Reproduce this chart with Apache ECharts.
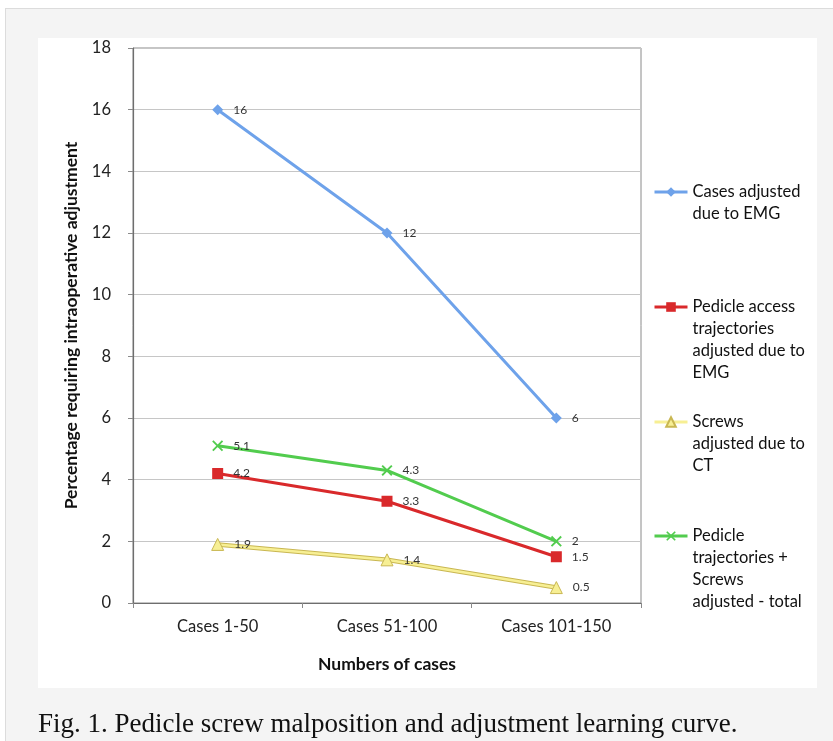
<!DOCTYPE html>
<html>
<head>
<meta charset="utf-8">
<script src="https://cdn.jsdelivr.net/npm/echarts@6/dist/echarts.min.js"></script>
<style>
  html, body { margin: 0; padding: 0; background: #ffffff; }
  #frame { position: absolute; left: 5px; top: 8px; width: 840px; height: 745px; background: #f4f4f4; border-left: 1px solid #dcdcdc; border-top: 1px solid #dcdcdc; }
  #panel { position: absolute; left: 38px; top: 38px; width: 779px; height: 650px; background: #ffffff; }
  #chart { position: absolute; left: 0; top: 0; width: 833px; height: 741px; }
</style>
</head>
<body>
<div id="frame"></div>
<div id="panel"></div>
<div id="chart"></div>
<script>
const categories = ['Cases 1-50', 'Cases 51-100', 'Cases 101-150'];
const casesEMG = [16, 12, 6];
const pedicleEMG = [4.2, 3.3, 1.5];
const screwsCT = [1.9, 1.4, 0.5];
const totalAdjusted = [5.1, 4.3, 2];
const yTicks = { min: 0, max: 18, interval: 2 };
const seriesNames = [
  'Cases adjusted\ndue to EMG',
  'Pedicle access\ntrajectories\nadjusted due to\nEMG',
  'Screws\nadjusted due to\nCT',
  'Pedicle\ntrajectories +\nScrews\nadjusted - total'
];

const FONT = 'Lato, "Open Sans", sans-serif';
const LH = 22;
const xPath = 'path://M0,1.2 L1.2,0 L5,3.8 L8.8,0 L10,1.2 L6.2,5 L10,8.8 L8.8,10 L5,6.2 L1.2,10 L0,8.8 L3.8,5 Z';

function legendFor(name, symbolY) {
  const n = name.split('\n').length;
  return {
    data: [name],
    left: 653,
    top: symbolY - (2 * n - 1) * LH / 2,
    padding: 0,
    itemWidth: 33,
    itemHeight: 12,
    itemGap: 4,
    selectedMode: false,
    lineStyle: { width: 3 },
    formatter: function (nm) { return '\n'.repeat(n - 1) + nm; },
    textStyle: { fontFamily: FONT, fontSize: 16.5, color: '#111', lineHeight: LH }
  };
}

const labelStyle = { show: true, position: 'right', distance: 10, fontFamily: FONT, fontSize: 12, color: '#333' };

const chart = echarts.init(document.getElementById('chart'), null, { renderer: 'canvas' });
chart.setOption({
  backgroundColor: 'transparent',
  animation: false,
  title: {
    text: 'Fig. 1. Pedicle screw malposition and adjustment learning curve.',
    left: 33, top: 706,
    textStyle: { fontFamily: '"Liberation Serif", "DejaVu Serif", serif', fontSize: 27, fontWeight: 'normal', color: '#111' }
  },
  legend: [
    legendFor(seriesNames[0], 192),
    legendFor(seriesNames[1], 307),
    legendFor(seriesNames[2], 422),
    legendFor(seriesNames[3], 536)
  ],
  grid: {
    left: 133, top: 48, right: 192, bottom: 138,
    show: true, borderColor: '#8a8a8a', borderWidth: 1, backgroundColor: 'transparent'
  },
  xAxis: {
    type: 'category',
    data: categories,
    boundaryGap: true,
    name: 'Numbers of cases',
    nameLocation: 'middle',
    nameGap: 52,
    nameTextStyle: { fontFamily: FONT, fontSize: 17.5, fontWeight: 'bold', color: '#111' },
    axisLine: { lineStyle: { color: '#6e6e6e', width: 1.2 } },
    axisTick: { show: true, length: 5, alignWithLabel: false, lineStyle: { color: '#8a8a8a' } },
    axisLabel: { fontFamily: FONT, fontSize: 16.5, color: '#222', margin: 15 },
    splitLine: { show: false }
  },
  yAxis: {
    type: 'value',
    min: yTicks.min, max: yTicks.max, interval: yTicks.interval,
    name: 'Percentage requiring intraoperative adjustment',
    nameLocation: 'middle',
    nameGap: 53,
    nameTextStyle: { fontFamily: FONT, fontSize: 17.5, fontWeight: 'bold', color: '#111' },
    axisLine: { show: true, lineStyle: { color: '#6e6e6e', width: 1.2 } },
    axisTick: { show: true, length: 5, lineStyle: { color: '#8a8a8a' } },
    axisLabel: { fontFamily: FONT, fontSize: 16.5, color: '#222', margin: 22 },
    splitLine: { show: true, lineStyle: { color: '#c6c6c6', width: 1.2 } }
  },
  series: [
    {
      name: seriesNames[0], type: 'line', data: casesEMG,
      symbol: 'diamond', symbolSize: 11,
      lineStyle: { color: '#6ea2ea', width: 3 },
      itemStyle: { color: '#6ea2ea' },
      label: labelStyle, z: 5
    },
    {
      name: seriesNames[1], type: 'line', data: pedicleEMG,
      symbol: 'rect', symbolSize: 11,
      lineStyle: { color: '#d9292b', width: 3 },
      itemStyle: { color: '#d9292b' },
      label: labelStyle, z: 4
    },
    {
      name: 'outline', type: 'line', data: screwsCT,
      symbol: 'none', silent: true,
      lineStyle: { color: '#c9b752', width: 4.5 },
      z: 2
    },
    {
      name: seriesNames[2], type: 'line', data: screwsCT,
      symbol: 'triangle', symbolSize: 12,
      lineStyle: { color: '#f7ef94', width: 2.5 },
      itemStyle: { color: '#f7ef94', borderColor: '#c9b752', borderWidth: 1 },
      label: labelStyle, z: 3
    },
    {
      name: seriesNames[3], type: 'line', data: totalAdjusted,
      symbol: xPath, symbolSize: 11,
      lineStyle: { color: '#52cc4e', width: 3 },
      itemStyle: { color: '#52cc4e' },
      label: labelStyle, z: 6
    }
  ]
});
</script>
</body>
</html>
